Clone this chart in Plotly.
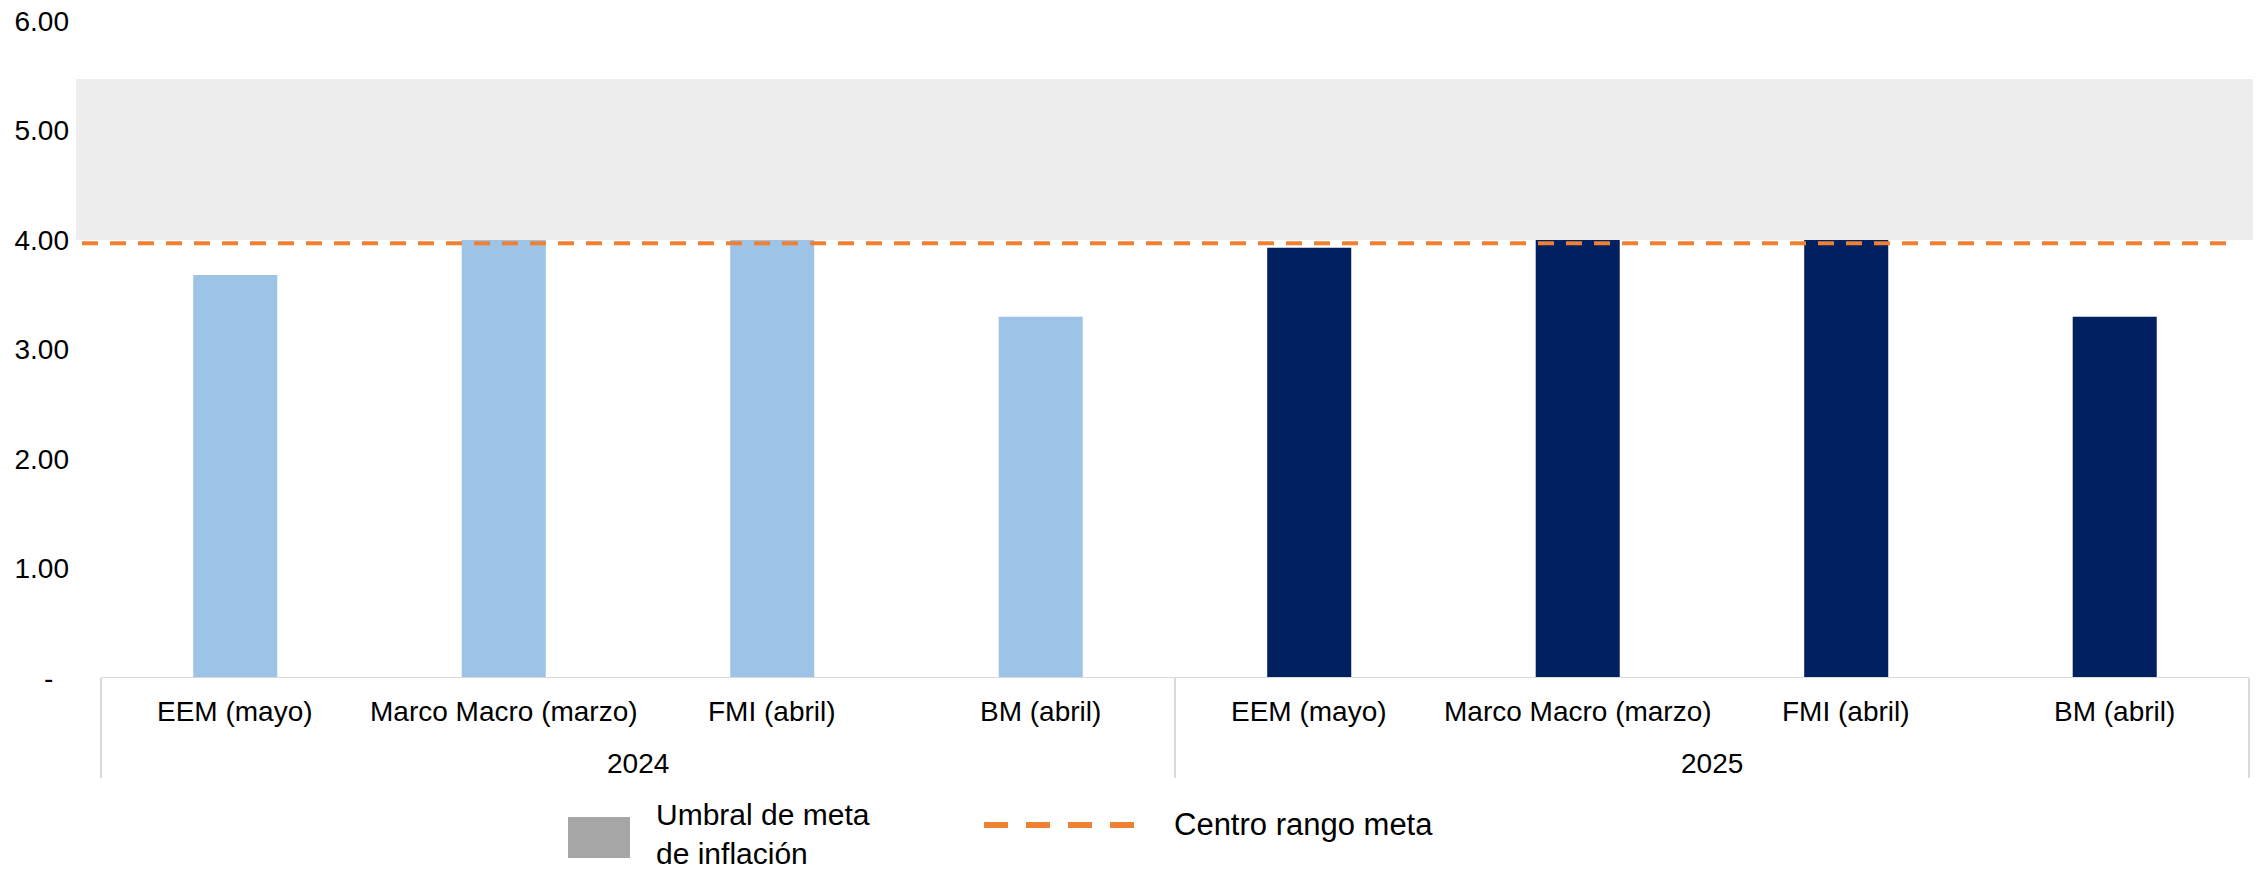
import plotly.graph_objects as go

# ---------------- data ----------------
categories = ["EEM (mayo)", "Marco Macro (marzo)", "FMI (abril)", "BM (abril)"]
years = ["2024", "2025"]
values_2024 = [3.68, 4.00, 4.00, 3.30]
values_2025 = [3.93, 4.00, 4.00, 3.30]
band_low = 4.00       # Umbral de meta de inflación (lower edge)
band_high = 5.47      # Umbral de meta de inflación (upper edge)
centro = 3.97         # Centro rango meta
y_ticks = [0, 1, 2, 3, 4, 5, 6]
y_ticktext = ["-\u00a0\u00a0", "1.00", "2.00", "3.00", "4.00", "5.00", "6.00"]

# ---------------- style ----------------
FONT = "Arial, Liberation Sans, sans-serif"
C_2024 = "#9DC3E6"
C_2025 = "#002060"
C_BAND = "#EDEDED"
C_LEG_BAND = "#A6A6A6"
C_ORANGE = "#EF8133"
C_AXIS = "#D9D9D9"

W, H = 2257, 875
L, R, T, B = 76, 4, 21, 197
PW, PH = W - L - R, H - T - B
PLOT_LEFT = L
PLOT_BOTTOM = H - B

def px_x(p):
    return (p - PLOT_LEFT) / PW

def px_y(p):
    return (PLOT_BOTTOM - p) / PH

n = len(categories)
x_2024 = list(range(n))
x_2025 = list(range(n, 2 * n))
all_labels = categories + categories

fig = go.Figure()
fig.add_trace(go.Bar(x=x_2024, y=values_2024, marker_color=C_2024, width=0.313,
                     marker_line_width=0, showlegend=False))
fig.add_trace(go.Bar(x=x_2025, y=values_2025, marker_color=C_2025, width=0.313,
                     marker_line_width=0, showlegend=False))

shapes = []
# inflation target band
shapes.append(dict(type="rect", xref="paper", yref="y", x0=0, x1=1, y0=band_low, y1=band_high,
                   fillcolor=C_BAND, line=dict(width=0), layer="below"))
# category axis line
shapes.append(dict(type="line", xref="x", yref="y", x0=-0.5, x1=2 * n - 0.5, y0=0, y1=0,
                   line=dict(color=C_AXIS, width=2), layer="above"))
# group separators
for xs in [-0.5, n - 0.5, 2 * n - 0.5]:
    shapes.append(dict(type="line", xref="x", yref="paper", x0=xs, x1=xs, y0=0, y1=px_y(778),
                       line=dict(color=C_AXIS, width=2)))
# centre line
shapes.append(dict(type="line", xref="paper", yref="y", x0=px_x(82), x1=px_x(2226), y0=centro, y1=centro,
                   line=dict(color=C_ORANGE, width=4, dash="16px,12px"), layer="above"))
# legend symbols
shapes.append(dict(type="rect", xref="paper", yref="paper", x0=px_x(568), x1=px_x(630),
                   y0=px_y(858), y1=px_y(817), fillcolor=C_LEG_BAND, line=dict(width=0)))
shapes.append(dict(type="line", xref="paper", yref="paper", x0=px_x(984), x1=px_x(1134),
                   y0=px_y(825), y1=px_y(825), line=dict(color=C_ORANGE, width=6, dash="24px,18px")))

annotations = []
for i, lab in enumerate(all_labels):
    annotations.append(dict(x=i, xref="x", y=px_y(711), yref="paper", text=lab, showarrow=False,
                            xanchor="center", yanchor="middle", font=dict(size=28, color="black", family=FONT)))
for g, yr in enumerate(years):
    annotations.append(dict(x=g * n + (n - 1) / 2, xref="x", y=px_y(763), yref="paper", text=yr,
                            showarrow=False, xanchor="center", yanchor="middle",
                            font=dict(size=28, color="black", family=FONT)))
# legend text
annotations.append(dict(x=px_x(654), xref="paper", y=px_y(834), yref="paper",
                        text="Umbral de meta<br>de inflación", align="left",
                        showarrow=False, xanchor="left", yanchor="middle",
                        font=dict(size=30, color="black", family=FONT)))
annotations.append(dict(x=px_x(1172), xref="paper", y=px_y(824), yref="paper", text="Centro rango meta",
                        showarrow=False, xanchor="left", yanchor="middle",
                        font=dict(size=31, color="black", family=FONT)))

fig.update_layout(
    width=W, height=H,
    margin=dict(l=L, r=R, t=T, b=B, autoexpand=False),
    paper_bgcolor="white", plot_bgcolor="white",
    barmode="overlay",
    shapes=shapes, annotations=annotations,
    font=dict(family=FONT, color="black"),
    xaxis=dict(range=[-0.593, 2 * n - 0.5 + 0.015], showticklabels=False, showgrid=False,
               zeroline=False, showline=False, ticks="", automargin=False),
    yaxis=dict(range=[0, 6], tickvals=y_ticks, ticktext=y_ticktext, showgrid=False,
               zeroline=False, showline=False, ticks="", ticklabelstandoff=6,
               ticklabeloverflow="allow", automargin=False,
               tickfont=dict(size=28, color="black", family=FONT)),
)

fig.write_html("out.html", config={"displayModeBar": False},
               post_script="document.body.style.margin='0';")
